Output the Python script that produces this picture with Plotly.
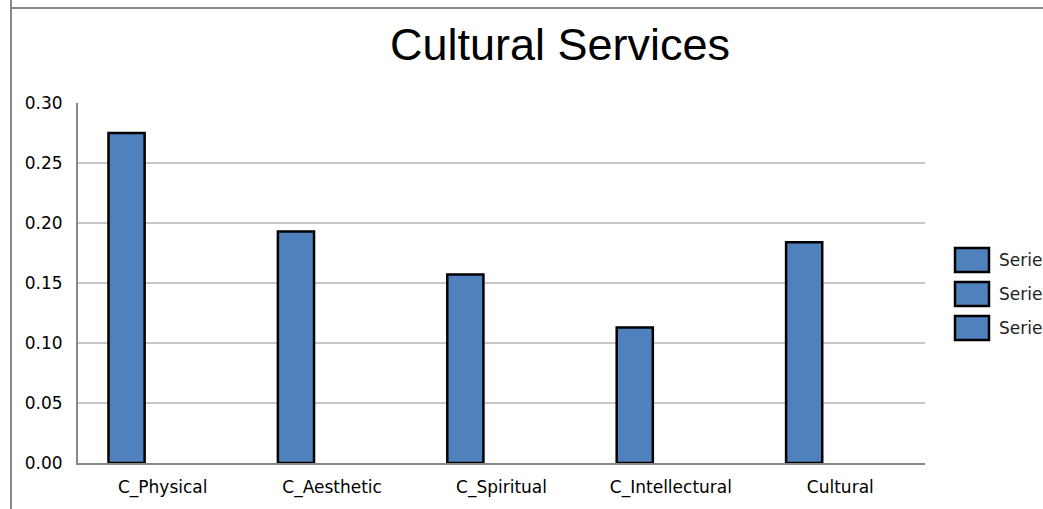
import plotly.graph_objects as go

# Chart data
categories = ["C_Physical", "C_Aesthetic", "C_Spiritual", "C_Intellectural", "Cultural"]
series_names = ["Series1", "Series2", "Series3"]
series1 = [0.275, 0.193, 0.157, 0.113, 0.184]
series2 = [None, None, None, None, None]
series3 = [None, None, None, None, None]
y_ticks = [0.00, 0.05, 0.10, 0.15, 0.20, 0.25, 0.30]

W, H = 1043, 509
ML, MR, MT, MB = 78, 118, 103, 46
plot_w = W - ML - MR
plot_h = H - MT - MB

BAR_FILL = "#4F81BD"
TEXT_FONT = "DejaVu Sans"


def px_x(px):
    return (px - ML) / plot_w


def px_y(py):
    return (H - MB - py) / plot_h


fig = go.Figure()
for name, vals in zip(series_names, [series1, series2, series3]):
    fig.add_trace(go.Bar(
        x=categories, y=vals, name=name,
        marker=dict(color=BAR_FILL, line=dict(color="black", width=2.5)),
        showlegend=False,
    ))

shapes = [
    # outer frame: left rule and top rule
    dict(type="line", xref="paper", yref="paper",
         x0=px_x(11), x1=px_x(11), y0=px_y(H + 2), y1=px_y(-2),
         line=dict(color="#888888", width=2)),
    dict(type="line", xref="paper", yref="paper",
         x0=px_x(10), x1=px_x(W + 2), y0=px_y(8), y1=px_y(8),
         line=dict(color="#888888", width=2)),
]
annotations = []

# legend: large swatches with labels on the right
leg_x0, leg_x1 = 955, 989
leg_centers = [260, 294, 328]
for name, cy in zip(series_names, leg_centers):
    shapes.append(dict(
        type="rect", xref="paper", yref="paper",
        x0=px_x(leg_x0), x1=px_x(leg_x1),
        y0=px_y(cy + 12), y1=px_y(cy - 12),
        fillcolor=BAR_FILL, line=dict(color="black", width=2.5),
    ))
    annotations.append(dict(
        text=name, xref="paper", yref="paper",
        x=px_x(997), y=px_y(cy), xanchor="left", yanchor="middle",
        showarrow=False, font=dict(family=TEXT_FONT, size=17, color="#222222"),
    ))

fig.update_layout(
    width=W, height=H,
    margin=dict(l=ML, r=MR, t=MT, b=MB, autoexpand=False),
    paper_bgcolor="white", plot_bgcolor="white",
    barmode="group", bargap=0.36, bargroupgap=0,
    title=dict(text="Cultural Services", x=560 / W, y=1 - 44 / H,
               xanchor="center", yanchor="middle",
               font=dict(family="Liberation Sans", size=45, color="black")),
    shapes=shapes, annotations=annotations,
    showlegend=False,
)

fig.update_yaxes(
    range=[0, 0.30], tickvals=y_ticks, tickformat=".2f",
    showgrid=True, gridcolor="#C8C8C8", gridwidth=2,
    showline=True, linecolor="#888888", linewidth=2,
    ticks="outside", ticklen=10, tickcolor="rgba(0,0,0,0)",
    zeroline=False,
    tickfont=dict(family=TEXT_FONT, size=17, color="black"),
)
fig.update_xaxes(
    showline=True, linecolor="#888888", linewidth=2,
    ticks="outside", ticklen=8, tickcolor="rgba(0,0,0,0)",
    showgrid=False,
    tickfont=dict(family=TEXT_FONT, size=17, color="black"),
)

fig.write_html("out.html")
